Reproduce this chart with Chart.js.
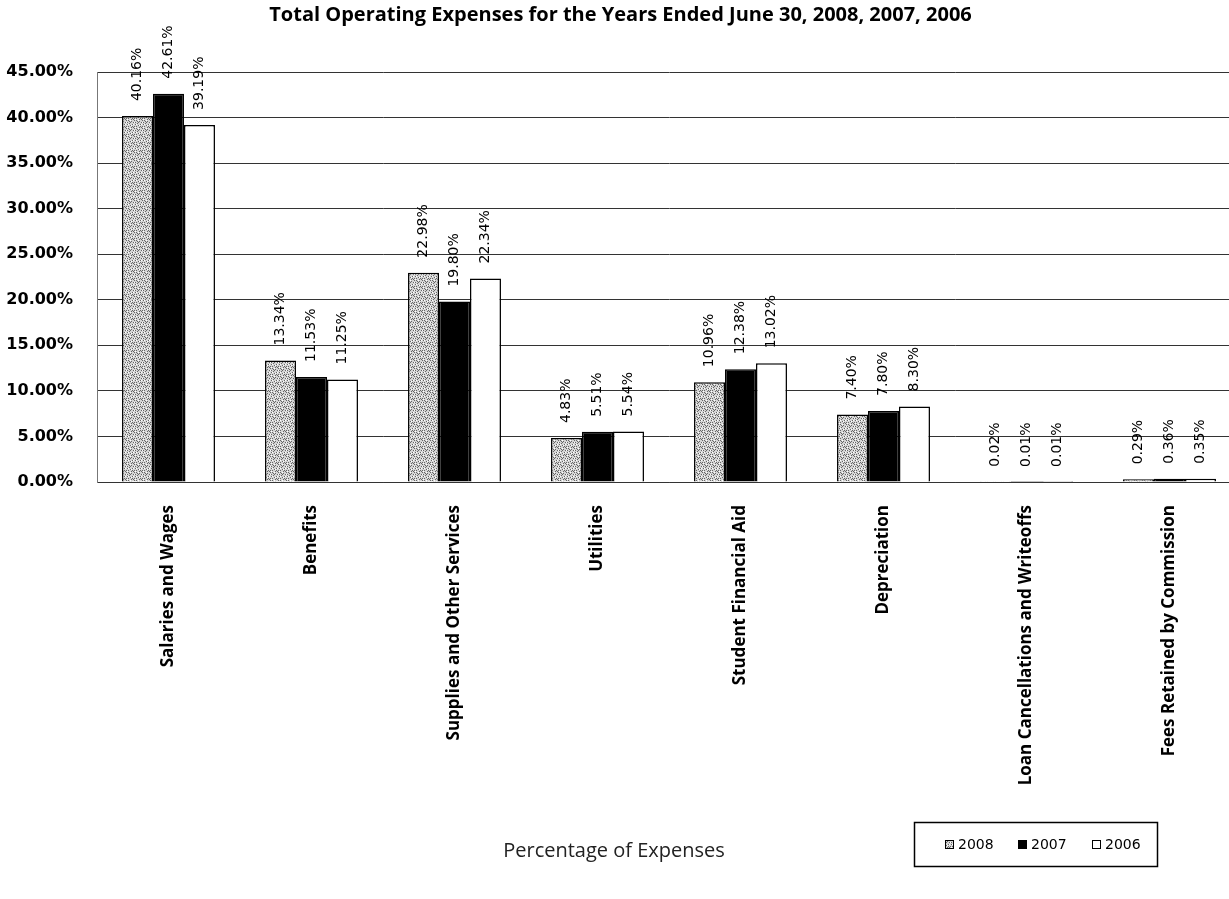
<!DOCTYPE html>
<html lang="en">
<head>
  <meta charset="UTF-8">
  <title>Total Operating Expenses</title>
  <script src="https://cdn.jsdelivr.net/npm/chart.js"></script>
  <style>
    html, body {
      margin: 0;
      padding: 0;
      background: #fff;
      overflow: hidden;
    }
    #wrap {
      width: 1229px;
      height: 899px;
      overflow: hidden;
    }
  </style>
</head>
<body>
  <div id="wrap">
    <canvas id="chart" width="1241" height="899"></canvas>
  </div>

  <script>
    // data
    const categories = [
      'Salaries and Wages',
      'Benefits',
      'Supplies and Other Services',
      'Utilities',
      'Student Financial Aid',
      'Depreciation',
      'Loan Cancellations and Writeoffs',
      'Fees Retained by Commission'
    ];
    const seriesNames = ['2008', '2007', '2006'];
    const values2008 = [40.16, 13.34, 22.98, 4.83, 10.96, 7.40, 0.02, 0.29];
    const values2007 = [42.61, 11.53, 19.80, 5.51, 12.38, 7.80, 0.01, 0.36];
    const values2006 = [39.19, 11.25, 22.34, 5.54, 13.02, 8.30, 0.01, 0.35];
    const yTickValues = [0, 5, 10, 15, 20, 25, 30, 35, 40, 45];

    // grey stipple used for the 2008 bars
    function stipple() {
      const c = document.createElement('canvas');
      c.width = 8; c.height = 8;
      const g = c.getContext('2d');
      g.fillStyle = '#d4d4d4';
      g.fillRect(0, 0, 8, 8);
      const dots = [[0,0],[3,1],[6,0],[1,3],[5,2],[7,4],[2,5],[4,4],[0,6],[6,6],[3,7],[5,7],[1,1],[7,2],[2,2],[4,6]];
      g.fillStyle = '#666';
      dots.forEach(d => g.fillRect(d[0], d[1], 1, 1));
      g.fillStyle = '#fff';
      [[2,0],[5,4],[0,4],[6,2],[3,5],[7,7]].forEach(d => g.fillRect(d[0], d[1], 1, 1));
      return g.createPattern(c, 'repeat');
    }
    const dotFill = stipple();

    Chart.defaults.font.family = "'Open Sans', sans-serif";
    Chart.defaults.color = '#000';

    const valueLabels = {
      id: 'valueLabels',
      afterDatasetsDraw(chart) {
        const ctx = chart.ctx;
        ctx.save();
        ctx.font = "14px 'DejaVu Sans'";
        ctx.fillStyle = '#000';
        ctx.textAlign = 'left';
        ctx.textBaseline = 'middle';
        chart.data.datasets.forEach((ds, i) => {
          chart.getDatasetMeta(i).data.forEach((bar, j) => {
            ctx.save();
            ctx.translate(bar.x, bar.y - 15);
            ctx.rotate(-Math.PI / 2);
            ctx.fillText(ds.data[j].toFixed(2) + '%', 0, 0);
            ctx.restore();
          });
        });
        ctx.restore();
      }
    };

    const extras = {
      id: 'extras',
      afterDraw(chart) {
        const ctx = chart.ctx;
        ctx.save();
        // axis title
        ctx.font = "20px 'Open Sans'";
        ctx.fillStyle = '#222';
        ctx.textAlign = 'center';
        ctx.textBaseline = 'middle';
        ctx.fillText('Percentage of Expenses', 614, 851);

        // legend box
        ctx.fillStyle = '#fff';
        ctx.fillRect(914, 822, 244, 45);
        ctx.strokeStyle = '#000';
        ctx.lineWidth = 1.5;
        ctx.strokeRect(914.5, 822.5, 243, 44);
        const xs = [945, 1018, 1092];
        ctx.font = "14px 'DejaVu Sans'";
        ctx.textAlign = 'left';
        chart.data.datasets.forEach((ds, i) => {
          ctx.fillStyle = ds.backgroundColor;
          ctx.fillRect(xs[i], 840, 9, 9);
          ctx.lineWidth = 1;
          ctx.strokeRect(xs[i] + 0.5, 840.5, 8, 8);
          ctx.fillStyle = '#000';
          ctx.fillText(ds.label, xs[i] + 13, 845);
        });
        ctx.restore();
      }
    };

    new Chart(document.getElementById('chart'), {
      type: 'bar',
      data: {
        labels: categories,
        datasets: [
          { label: seriesNames[0], data: values2008, backgroundColor: dotFill },
          { label: seriesNames[1], data: values2007, backgroundColor: '#000' },
          { label: seriesNames[2], data: values2006, backgroundColor: '#fff' }
        ]
      },
      options: {
        responsive: false,
        animation: false,
        devicePixelRatio: 1,
        layout: { padding: { top: 0, right: 0, bottom: 0, left: 0 } },
        datasets: {
          bar: {
            borderColor: '#000',
            borderWidth: 1.5,
            categoryPercentage: 0.65,
            barPercentage: 1
          }
        },
        plugins: {
          legend: { display: false },
          tooltip: { enabled: false },
          title: {
            display: true,
            text: 'Total Operating Expenses for the Years Ended June 30, 2008, 2007, 2006',
            font: { size: 20, weight: 'bold' },
            color: '#000',
            padding: { top: 3, bottom: 45 }
          }
        },
        scales: {
          x: {
            grid: { display: false, drawTicks: false },
            border: { color: '#333', width: 1 },
            afterFit: s => { s.height = 417; },
            ticks: {
              autoSkip: false,
              maxRotation: 90,
              minRotation: 90,
              padding: 23,
              font: { size: 17, weight: 'bold' }
            }
          },
          y: {
            min: 0,
            max: 45,
            afterFit: s => { s.width = 97; },
            afterBuildTicks: s => { s.ticks = yTickValues.map(v => ({ value: v })); },
            grid: { color: '#333', lineWidth: 1, drawTicks: false },
            border: { color: '#777', width: 1 },
            ticks: {
              padding: 24,
              font: { family: "'DejaVu Sans'", size: 16, weight: 'bold' },
              callback: v => v.toFixed(2) + '%'
            }
          }
        }
      },
      plugins: [valueLabels, extras]
    });
  </script>
</body>
</html>
